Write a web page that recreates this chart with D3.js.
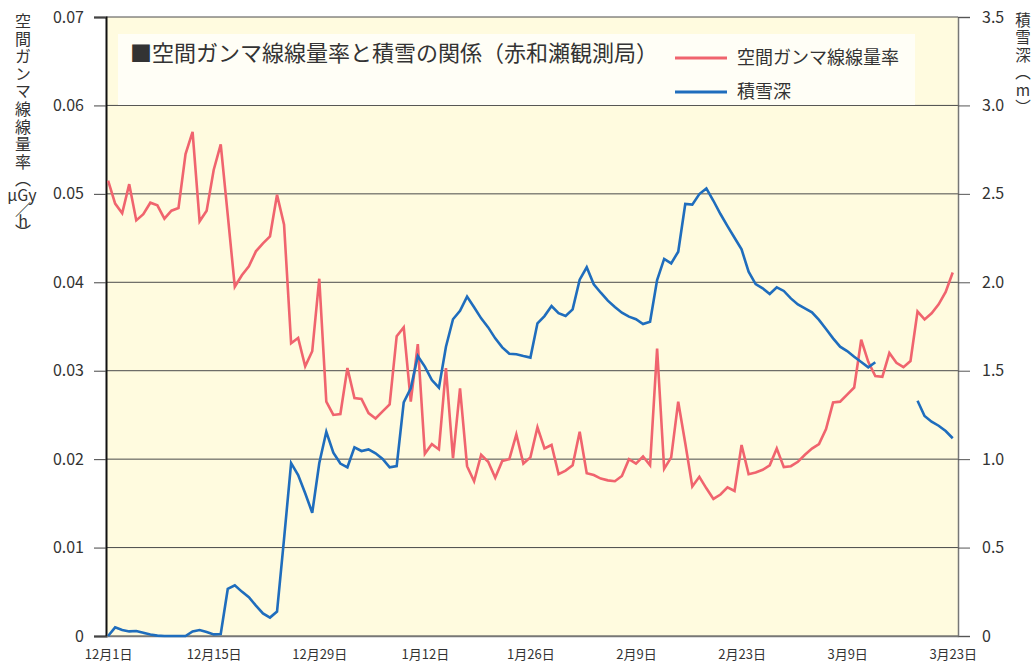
<!DOCTYPE html>
<html>
<head>
<meta charset="utf-8">
<script src="https://cdn.jsdelivr.net/npm/d3@7"></script>
<style>
  body { margin: 0; background: #fff; }
  text { font-family: "Noto Sans CJK JP", "Noto Sans", sans-serif; fill: #333; }
  .vert { writing-mode: vertical-rl; text-orientation: upright; }
  .vert-mixed { writing-mode: vertical-rl; text-orientation: mixed; }
</style>
</head>
<body>
<script>
// tick labels, one every 15 points
const tickLabels = ["12月1日", "12月15日", "12月29日", "1月12日", "1月26日", "2月9日", "2月23日", "3月9日", "3月23日"];

// 空間ガンマ線線量率 (μGy/h)
const doseRate = [
  0.0515, 0.0489, 0.0478, 0.0511, 0.0470, 0.0477, 0.0490, 0.0487, 0.0472, 0.0481,
  0.0484, 0.0545, 0.0570, 0.0469, 0.0481, 0.0527, 0.0556, 0.0476, 0.0395, 0.0408,
  0.0418, 0.0435, 0.0444, 0.0452, 0.0499, 0.0465, 0.0331, 0.0337, 0.0305, 0.0322,
  0.0404, 0.0265, 0.0250, 0.0251, 0.0303, 0.0269, 0.0268, 0.0252, 0.0246, 0.0254,
  0.0262, 0.0339, 0.0349, 0.0265, 0.0330, 0.0206, 0.0217, 0.0211, 0.0303, 0.0201,
  0.0280, 0.0192, 0.0175, 0.0205, 0.0197, 0.0179, 0.0198, 0.0200, 0.0228, 0.0195,
  0.0202, 0.0236, 0.0212, 0.0216, 0.0183, 0.0187, 0.0193, 0.0231, 0.0184, 0.0182,
  0.0178, 0.0176, 0.0175, 0.0181, 0.0200, 0.0195, 0.0203, 0.0193, 0.0325, 0.0189,
  0.0202, 0.0265, 0.0218, 0.0169, 0.0180, 0.0167, 0.0155, 0.0160, 0.0168, 0.0164,
  0.0216, 0.0183, 0.0185, 0.0188, 0.0193, 0.0212, 0.0191, 0.0192, 0.0197, 0.0205,
  0.0212, 0.0217, 0.0234, 0.0264, 0.0265, 0.0273, 0.0281, 0.0335, 0.0310, 0.0294,
  0.0293, 0.0320, 0.0309, 0.0304, 0.0311, 0.0367, 0.0358, 0.0365, 0.0375, 0.0389,
  0.0411
];

// 積雪深 (m), null = no data
const snowDepth = [
  0.000, 0.049, 0.034, 0.026, 0.028, 0.019, 0.008, 0.002, 0.000, 0.000,
  0.000, 0.000, 0.026, 0.034, 0.023, 0.009, 0.011, 0.266, 0.287, 0.251,
  0.219, 0.172, 0.128, 0.104, 0.138, 0.550, 0.977, 0.910, 0.807, 0.697,
  0.977, 1.155, 1.036, 0.975, 0.954, 1.067, 1.046, 1.055, 1.033, 1.001,
  0.954, 0.961, 1.321, 1.400, 1.583, 1.523, 1.447, 1.404, 1.636, 1.791,
  1.839, 1.919, 1.859, 1.796, 1.745, 1.683, 1.632, 1.596, 1.593, 1.583,
  1.574, 1.768, 1.809, 1.866, 1.825, 1.809, 1.847, 2.015, 2.085, 1.989,
  1.941, 1.896, 1.860, 1.828, 1.806, 1.791, 1.764, 1.777, 2.013, 2.132,
  2.107, 2.173, 2.443, 2.439, 2.499, 2.531, 2.461, 2.386, 2.318, 2.252,
  2.186, 2.060, 1.990, 1.966, 1.934, 1.972, 1.951, 1.909, 1.875, 1.853,
  1.830, 1.787, 1.736, 1.683, 1.636, 1.611, 1.579, 1.549, 1.519, 1.548,
  null, null, null, null, null, 1.330, 1.244, 1.212, 1.189, 1.159,
  1.118
];

const leftTicks = [0, 0.01, 0.02, 0.03, 0.04, 0.05, 0.06, 0.07];
const rightTicks = [0, 0.5, 1.0, 1.5, 2.0, 2.5, 3.0, 3.5];

const width = 1035, height = 664;
const plotL = 106, plotR = 958, plotT = 17, plotB = 636;
const red = "#f0646e", blue = "#1f6dbd";

const svg = d3.select("body").append("svg")
  .attr("width", width).attr("height", height);

const x = d3.scaleLinear().domain([-0.3, 120.75]).range([plotL, plotR]);
const yL = d3.scaleLinear().domain([0, 0.07]).range([plotB, plotT]);
const yR = d3.scaleLinear().domain([0, 3.5]).range([plotB, plotT]);

// plot background
svg.append("rect")
  .attr("x", plotL).attr("y", plotT)
  .attr("width", plotR - plotL).attr("height", plotB - plotT)
  .attr("fill", "#fffbdf");

// grid lines
svg.append("g").selectAll("line").data(leftTicks).enter().append("line")
  .attr("x1", plotL).attr("x2", plotR)
  .attr("y1", d => yL(d)).attr("y2", d => yL(d))
  .attr("stroke", "#4a4a4a").attr("stroke-width", 1);

// left axis
const axL = svg.append("g").attr("transform", "translate(" + plotL + ",0)")
  .call(d3.axisLeft(yL).tickValues(leftTicks).tickSize(12).tickPadding(10)
    .tickFormat(d => d === 0 ? "0" : d3.format(".2f")(d)));
axL.select(".domain").attr("stroke", "#111").attr("stroke-width", 2);
axL.selectAll(".tick line").attr("stroke", "#444");
axL.selectAll("text").style("font-size", "16px").attr("fill", "#333");

// right axis
const axR = svg.append("g").attr("transform", "translate(" + plotR + ",0)")
  .call(d3.axisRight(yR).tickValues(rightTicks).tickSize(12).tickPadding(12)
    .tickFormat(d => d === 0 ? "0" : d3.format(".1f")(d)));
axR.select(".domain").attr("stroke", "#777").attr("stroke-width", 1.5);
axR.selectAll(".tick line").attr("stroke", "#555");
axR.selectAll("text").style("font-size", "16px").attr("fill", "#333");

// bottom axis
const axB = svg.append("g").attr("transform", "translate(0," + plotB + ")")
  .call(d3.axisBottom(x).tickValues(d3.range(0, 121, 15)).tickSize(0).tickPadding(14)
    .tickFormat((d, i) => tickLabels[i]));
axB.select(".domain").attr("stroke", "#777").attr("stroke-width", 1.5);
axB.selectAll("text").style("font-size", "13px").attr("fill", "#333");

// lines
const lineL = d3.line().defined(d => d != null)
  .x((d, i) => x(i)).y(d => yL(d));
const lineR = d3.line().defined(d => d != null)
  .x((d, i) => x(i)).y(d => yR(d));

svg.append("path").datum(doseRate)
  .attr("d", lineL).attr("fill", "none")
  .attr("stroke", red).attr("stroke-width", 2.6);
svg.append("path").datum(snowDepth)
  .attr("d", lineR).attr("fill", "none")
  .attr("stroke", blue).attr("stroke-width", 2.6);

// title & legend box
svg.append("rect")
  .attr("x", 118).attr("y", 34).attr("width", 797).attr("height", 71)
  .attr("fill", "#fffef6");
svg.append("text").attr("x", 130).attr("y", 61)
  .style("font-size", "22px").attr("fill", "#222")
  .text("■空間ガンマ線線量率と積雪の関係（赤和瀬観測局）");

const legend = svg.append("g").selectAll("g")
  .data([{ name: "空間ガンマ線線量率", color: red }, { name: "積雪深", color: blue }])
  .enter().append("g")
  .attr("transform", (d, i) => "translate(675," + (58 + i * 34) + ")");
legend.append("line").attr("x1", 0).attr("x2", 52)
  .attr("stroke", d => d.color).attr("stroke-width", 3);
legend.append("text").attr("x", 62).attr("dy", "0.35em")
  .style("font-size", "18px").attr("fill", "#222")
  .text(d => d.name);

// vertical axis titles
svg.append("text").attr("class", "vert-mixed")
  .attr("x", 23).attr("y", 13)
  .style("font-size", "16px").style("letter-spacing", "1.6px")
  .text("空間ガンマ線線量率（");
svg.append("text")
  .attr("x", 22).attr("y", 201).attr("text-anchor", "middle")
  .style("font-size", "16px")
  .text("μGy");
svg.append("text").attr("class", "vert")
  .attr("x", 23).attr("y", 201)
  .style("font-size", "16px").style("letter-spacing", "-4.5px")
  .text("／h︶");

svg.append("text").attr("class", "vert")
  .attr("x", 1023).attr("y", 12)
  .style("font-size", "15.5px").style("letter-spacing", "2px")
  .text("積雪深︵m︶");
</script>
</body>
</html>
